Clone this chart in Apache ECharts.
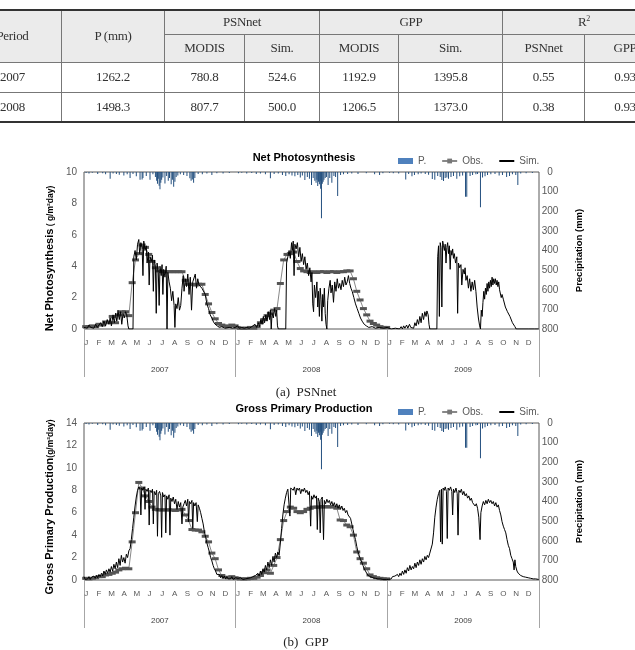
<!DOCTYPE html>
<html><head><meta charset="utf-8">
<script src="https://cdn.jsdelivr.net/npm/echarts@6/dist/echarts.min.js"></script>
<style>
html,body{margin:0;padding:0;background:#fff;width:635px;height:650px;overflow:hidden;position:relative}
#chart{position:absolute;left:0;top:0;width:635px;height:650px}
#tbl{position:absolute;left:-37px;top:9px;width:702px;border-collapse:collapse;font-family:'Liberation Serif','DejaVu Serif',serif;font-size:13px;color:#333;table-layout:fixed}
#tbl td{border:1px solid #777;text-align:center;padding:0;white-space:nowrap;letter-spacing:-0.3px}
#tbl tr.h td{background:#ebebeb}
#tbl tr.top td{border-top:2px solid #333}
#tbl tr.last td{border-bottom:2px solid #333}
</style></head>
<body>
<div id="chart"></div>
<table id="tbl"></table>
<script>
// ---------- table values ----------
const tableYears = ['2007', '2008'];
const tableP = ['1262.2', '1498.3'];
const tablePsnModis = ['780.8', '807.7'];
const tablePsnSim = ['524.6', '500.0'];
const tableGppModis = ['1192.9', '1206.5'];
const tableGppSim = ['1395.8', '1373.0'];
const tableR2Psn = ['0.55', '0.38'];
const tableR2Gpp = ['0.93', '0.93'];

// ---------- chart categories ----------
const monthLetters = ['J','F','M','A','M','J','J','A','S','O','N','D'];
const yearLabels = ['2007', '2008', '2009'];
const yearStartDay = [0, 365, 731];
const totalDays = 1096;

// ---------- precipitation (day index from 2007-01-01, mm) ----------
const precip = [
 [5,5],[12,8],[20,4],[33,10],[45,6],[52,12],[63,35],[70,8],[78,10],[85,14],[96,18],[104,12],[111,30],[118,10],[126,22],[135,40],[140,38],[142,30],[150,20],[159,40],[166,12],[172,25],[175,45],[177,60],[179,35],[181,70],[183,88],[185,55],[187,40],[190,28],[195,58],[199,20],[203,45],[206,30],[210,62],[213,40],[216,75],[219,50],[222,25],[226,18],[232,12],[240,15],[248,20],[255,32],[258,45],[261,38],[264,55],[267,30],[275,10],[285,12],[296,8],[308,15],[320,6],[335,8],[350,5],
 [372,6],[380,4],[392,8],[404,5],[415,10],[425,8],[437,12],[449,32],[458,10],[468,8],[478,15],[486,20],[494,12],[501,18],[508,22],[515,15],[521,28],[526,18],[532,41],[538,25],[543,35],[548,66],[552,30],[556,45],[559,55],[561,40],[563,71],[565,50],[567,62],[569,45],[570,85],[572,236],[574,60],[576,50],[578,40],[581,30],[584,25],[588,66],[592,30],[597,55],[602,20],[606,25],[611,122],[618,15],[625,12],[635,10],[645,8],[660,10],[680,6],[700,12],[712,15],[720,6],
 [736,4],[745,6],[758,8],[775,38],[782,10],[790,22],[796,15],[805,12],[812,8],[822,10],[830,14],[839,36],[845,40],[852,20],[858,25],[862,41],[866,46],[870,30],[874,28],[878,35],[884,25],[890,20],[898,35],[905,22],[912,18],[919,126],[922,126],[930,20],[936,15],[944,12],[948,10],[955,180],[960,28],[966,22],[972,15],[980,12],[990,10],[1000,18],[1008,15],[1018,25],[1025,20],[1032,12],[1040,15],[1045,66],[1052,8],[1065,6],[1080,5]
];

// ---------- MODIS 8-day composites (46 per year) ----------
const obsPsn2007 = [0.15,0.15,0.2,0.15,0.3,0.25,0.45,0.4,0.8,0.4,0.9,1.1,1.1,0.85,2.95,4.4,4.8,5.35,5.2,4.75,4.3,3.9,3.7,3.65,3.65,3.65,3.65,3.65,3.65,3.65,3.1,2.85,2.85,2.8,2.85,2.85,2.2,1.6,1.05,0.65,0.35,0.25,0.2,0.15,0.25,0.2];
const obsPsn2008 = [0.1,0.05,0.05,0.05,0.1,0.05,0.15,0.4,0.6,0.85,1.0,1.2,1.3,2.9,4.4,4.75,4.8,4.9,4.3,3.85,3.7,3.65,3.6,3.65,3.6,3.65,3.65,3.6,3.65,3.65,3.6,3.65,3.65,3.7,3.7,3.2,2.4,1.85,1.3,0.9,0.5,0.35,0.25,0.15,0.1,0.1];
const obsGpp2007 = [0.15,0.1,0.15,0.2,0.3,0.3,0.45,0.5,0.6,0.7,0.9,1.0,1.05,1.0,3.4,6.0,8.7,8.2,7.5,7.0,6.5,6.3,6.25,6.25,6.25,6.25,6.25,6.2,6.25,6.3,5.8,5.3,4.5,4.45,4.45,4.3,3.9,3.4,2.4,1.9,0.9,0.4,0.25,0.2,0.3,0.2];
const obsGpp2008 = [0.15,0.1,0.1,0.1,0.15,0.15,0.25,0.4,0.65,0.9,0.6,1.3,2.0,3.6,5.3,6.1,6.5,6.4,6.1,6.0,6.1,6.3,6.4,6.5,6.5,6.5,6.55,6.5,6.55,6.5,6.4,5.35,5.3,4.9,4.75,4.0,2.5,1.9,1.5,1.0,0.45,0.3,0.2,0.15,0.1,0.1];

// ---------- simulated daily values (day index, value) ----------
const simPsn = [
 [0,0.1],[4,0.2],[8,0.05],[12,0.25],[16,0.1],[20,0.2],[24,0.05],[28,0.3],[32,0.1],[36,0.25],[40,0.4],[44,0.15],[48,0.5],[52,0.2],[56,0.6],[60,0.3],[63,0.7],[66,0.2],[70,0.9],[73,0.4],[76,1.0],[79,0.5],[82,1.2],[85,0.6],[88,1.1],[91,0.3],[94,1.0],[97,0.7],[100,1.1],[103,0.9],[106,0.2],[108,0],[118,0],[120,4.6],[123,5.0],[126,4.4],[129,5.4],[132,5.7],[134,4.8],[137,5.5],[140,5.2],[142,3.4],[144,5.6],[147,5.0],[150,5.3],[152,4.2],[155,4.9],[157,2.8],[159,4.6],[162,4.3],[165,4.7],[167,2.4],[169,4.4],[172,4.0],[174,1.0],[176,4.2],[179,3.6],[181,1.5],[183,4.0],[186,3.4],[188,4.1],[190,2.2],[192,3.8],[195,3.3],[198,4.0],[200,0],[202,3.6],[205,3.0],[208,2.6],[211,1.8],[214,2.4],[217,1.5],[219,0.1],[221,1.6],[224,1.3],[227,2.0],[230,1.2],[233,1.5],[236,2.6],[239,3.4],[241,2.4],[244,3.2],[247,2.7],[250,3.5],[253,2.2],[256,3.3],[259,1.2],[262,3.0],[265,2.9],[268,3.5],[271,2.6],[274,3.2],[277,2.8],[280,2.9],[284,2.6],[288,2.7],[292,2.2],[296,1.6],[300,1.3],[304,0.9],[308,0.7],[312,0.45],[316,0.3],[320,0.2],[326,0.1],[332,0.15],[340,0.05],[350,0.1],[358,0.05],[364,0.1],
 [366,0.1],[370,0.2],[374,0.05],[380,0.1],[386,0.05],[392,0.1],[398,0.05],[404,0.15],[408,0.05],[412,0.3],[416,0.1],[420,0.4],[423,0.15],[426,0.6],[429,0.3],[432,0.8],[435,0.4],[438,0.9],[441,0.5],[444,1.1],[447,0.6],[449,1.2],[451,0],[453,1.0],[456,0.7],[459,1.3],[462,0.8],[464,1.2],[466,0.2],[468,0],[486,0],[488,4.2],[491,4.6],[494,5.0],[497,4.5],[500,5.5],[502,5.0],[504,5.6],[506,3.4],[508,5.4],[511,5.1],[514,5.5],[517,4.6],[520,5.2],[523,4.3],[526,4.8],[529,4.1],[532,4.6],[535,3.8],[538,4.2],[541,3.4],[544,3.9],[547,3.0],[549,3.6],[551,1.6],[553,1.1],[555,2.8],[558,2.0],[561,3.0],[563,1.4],[565,2.4],[567,0.8],[569,2.6],[571,1.9],[573,0.5],[575,2.2],[577,1.4],[579,2.6],[581,1.0],[583,0.3],[585,0],[587,1.8],[590,2.6],[593,3.1],[595,2.3],[598,2.8],[601,1.7],[604,3.0],[607,2.4],[610,3.2],[613,2.6],[616,2.9],[619,2.5],[622,3.1],[625,2.7],[628,3.3],[631,2.8],[634,3.0],[637,3.4],[640,2.9],[643,2.6],[646,2.4],[650,2.0],[654,1.6],[658,1.3],[662,1.0],[666,0.7],[670,0.5],[675,0.3],[680,0.2],[686,0.1],[694,0.15],[702,0.05],[712,0.1],[722,0.05],[730,0.1],
 [731,0.05],[740,0],[750,0.05],[760,0],[764,0.15],[767,0],[770,0.2],[773,0.05],[777,0.25],[780,0.05],[784,0.3],[787,0.1],[791,0.2],[794,0.05],[797,0.4],[800,0.2],[803,0.6],[806,0.3],[809,0.8],[812,0.4],[815,1.0],[818,0.6],[821,1.1],[824,0.8],[826,1.15],[829,0.9],[831,0.3],[833,0],[850,0],[852,4.6],[854,5.3],[856,0.8],[858,5.5],[860,5.2],[862,1.4],[864,5.6],[866,5.3],[868,5.0],[870,5.4],[872,4.2],[874,5.2],[876,5.5],[878,4.8],[880,5.3],[882,3.8],[884,5.0],[886,4.7],[888,5.1],[890,4.5],[892,4.8],[895,4.2],[898,4.6],[900,1.0],[902,4.2],[905,3.9],[908,4.1],[910,2.8],[913,3.8],[916,3.5],[918,3.9],[920,3.1],[923,3.4],[926,2.6],[929,3.2],[932,2.4],[935,3.0],[938,2.5],[941,3.1],[944,2.4],[947,1.4],[950,0.7],[953,0.2],[955,0],[957,1.2],[959,0.8],[961,1.7],[963,2.4],[965,1.9],[967,2.6],[969,2.2],[971,2.9],[973,2.4],[975,3.0],[977,2.6],[979,3.1],[981,2.7],[983,3.3],[985,2.8],[987,3.2],[989,2.9],[991,3.2],[993,2.8],[995,3.1],[997,2.7],[999,3.0],[1001,2.5],[1003,2.6],[1005,2.0],[1007,2.2],[1010,1.9],[1013,1.8],[1015,1.4],[1017,1.5],[1020,1.1],[1023,1.2],[1026,0.8],[1029,0.7],[1032,0.4],[1035,0.5],[1038,0.15],[1041,0],[1055,0],[1070,0],[1085,0],[1095,0]
];
const simGpp = [
 [0,0.3],[3,0.05],[6,0.2],[9,0.1],[12,0.3],[15,0.05],[18,0.25],[21,0.1],[24,0.35],[27,0.15],[30,0.4],[33,0.2],[36,0.5],[39,0.3],[42,0.6],[45,0.35],[48,0.8],[51,0.5],[54,0.9],[57,0.6],[60,1.0],[63,0.7],[66,1.2],[69,0.8],[72,1.4],[75,1.0],[78,1.6],[81,1.1],[84,1.9],[87,1.3],[90,2.2],[93,1.6],[96,2.0],[99,1.5],[102,2.3],[105,2.0],[108,2.6],[111,2.8],[114,3.6],[117,4.6],[120,5.6],[123,6.6],[126,7.4],[129,8.0],[132,8.3],[135,8.1],[137,5.8],[139,8.2],[142,8.0],[145,8.3],[147,6.3],[149,8.1],[152,7.9],[155,8.2],[157,4.9],[159,8.0],[162,7.8],[165,8.1],[167,5.0],[169,7.9],[172,7.6],[175,8.0],[177,3.9],[179,7.7],[182,7.9],[185,7.5],[187,3.8],[189,7.8],[192,7.4],[195,7.6],[197,4.2],[199,7.5],[202,7.2],[205,7.6],[207,4.0],[209,7.3],[212,7.0],[215,7.4],[218,6.8],[221,7.2],[224,6.3],[227,7.0],[230,6.5],[233,6.9],[236,5.0],[238,6.5],[241,6.8],[244,7.1],[247,6.6],[250,7.2],[252,5.2],[254,7.0],[257,6.8],[260,7.1],[262,4.6],[264,6.9],[267,6.6],[270,6.9],[273,5.2],[275,6.7],[278,6.4],[281,6.0],[284,5.5],[287,5.0],[290,4.3],[293,3.8],[296,3.3],[299,2.9],[302,2.5],[305,2.0],[308,1.7],[311,1.3],[314,1.0],[317,0.8],[320,0.5],[323,0.35],[326,0.5],[329,0.2],[332,0.4],[335,0.15],[338,0.35],[341,0.1],[344,0.3],[347,0.1],[350,0.25],[353,0.1],[356,0.3],[359,0.05],[362,0.2],
 [365,0.2],[368,0.05],[371,0.15],[374,0.05],[377,0.2],[380,0.1],[383,0.05],[386,0.2],[389,0.1],[392,0.05],[395,0.15],[398,0.05],[401,0.2],[404,0.1],[407,0.3],[410,0.15],[413,0.4],[416,0.25],[419,0.6],[422,0.35],[425,0.8],[428,0.5],[431,1.0],[434,0.7],[437,1.3],[440,0.9],[443,1.6],[446,1.1],[449,1.8],[452,1.3],[455,2.1],[458,1.6],[461,2.4],[464,2.0],[467,2.5],[470,2.2],[473,3.3],[476,4.6],[479,5.8],[482,6.7],[485,7.3],[488,7.8],[491,8.1],[494,8.0],[496,5.7],[498,8.2],[501,8.3],[504,8.0],[507,8.3],[510,7.6],[513,8.2],[516,8.0],[519,8.2],[522,7.7],[525,8.1],[528,7.9],[531,8.2],[534,7.8],[537,8.0],[540,7.6],[543,7.9],[546,4.8],[548,7.5],[551,7.2],[554,7.6],[557,7.3],[560,7.5],[562,4.5],[564,7.3],[567,7.0],[569,4.2],[571,7.2],[574,7.4],[577,3.6],[579,7.1],[582,6.8],[585,7.2],[588,6.9],[591,7.1],[594,6.7],[597,7.0],[600,6.6],[603,6.9],[606,6.5],[609,6.8],[612,6.4],[615,6.7],[618,6.3],[621,6.6],[624,6.2],[627,6.4],[630,6.0],[633,6.2],[636,5.8],[639,5.9],[642,5.5],[645,5.0],[648,4.5],[651,4.0],[654,3.6],[657,3.0],[660,2.5],[663,2.2],[666,1.8],[669,1.6],[672,1.3],[675,1.0],[678,0.8],[681,0.6],[684,0.4],[687,0.5],[690,0.3],[693,0.4],[696,0.2],[699,0.35],[702,0.15],[705,0.3],[708,0.1],[711,0.25],[714,0.1],[717,0.2],[720,0.05],[724,0.15],[728,0.05],
 [731,0.1],[734,0.05],[737,0.2],[740,0.1],[743,0.3],[746,0.15],[749,0.35],[752,0.2],[755,0.5],[758,0.3],[761,0.6],[764,0.4],[767,0.8],[770,0.5],[773,0.9],[776,0.6],[779,1.1],[782,0.8],[785,1.3],[788,0.9],[791,1.2],[794,1.0],[797,1.5],[800,1.1],[803,1.6],[806,1.3],[809,1.8],[812,1.4],[815,1.9],[818,1.6],[821,2.1],[824,1.8],[827,2.2],[830,2.0],[833,2.4],[836,2.5],[839,3.2],[842,4.2],[845,5.6],[848,6.5],[851,7.2],[854,7.7],[857,8.0],[859,3.4],[861,8.1],[863,3.2],[865,8.2],[868,8.0],[870,8.3],[873,7.9],[875,3.7],[877,8.2],[880,8.0],[883,8.3],[886,7.9],[888,5.8],[890,8.1],[893,7.8],[896,8.2],[899,7.7],[901,4.0],[903,8.0],[906,7.8],[909,8.1],[912,7.6],[915,7.9],[918,7.5],[921,7.7],[924,7.3],[927,7.5],[930,7.1],[933,7.3],[936,6.9],[939,7.0],[942,6.6],[945,6.8],[948,6.4],[951,5.6],[954,3.6],[956,6.0],[959,6.6],[962,7.0],[965,6.7],[968,7.1],[971,6.8],[974,7.2],[977,6.9],[980,7.1],[983,6.8],[986,7.0],[989,6.6],[992,6.9],[995,6.5],[998,6.7],[1001,6.2],[1004,5.8],[1007,5.2],[1010,4.8],[1013,4.5],[1016,4.2],[1019,3.6],[1022,3.1],[1025,2.8],[1028,2.2],[1031,1.9],[1034,1.6],[1036,0.9],[1038,1.8],[1040,1.2],[1043,0.8],[1046,0.6],[1049,0.7],[1052,0.4],[1055,0.5],[1058,0.3],[1061,0.45],[1064,0.25],[1067,0.4],[1070,0.2],[1073,0.35],[1076,0.15],[1079,0.3],[1082,0.1],[1085,0.25],[1088,0.1],[1091,0.2],[1095,0.05]
];

// ---------- build table ----------
(function buildTable(){
  const widths = [98,103,80,75,79,104,82,81];
  let h = '<colgroup>' + widths.map(w => '<col style="width:' + w + 'px">').join('') + '</colgroup>';
  h += '<tr class="h top" style="height:24px"><td rowspan="2">Period</td><td rowspan="2">P (mm)</td><td colspan="2">PSNnet</td><td colspan="2">GPP</td><td colspan="2">R<sup style="font-size:8px">2</sup></td></tr>';
  h += '<tr class="h" style="height:28px"><td>MODIS</td><td>Sim.</td><td>MODIS</td><td>Sim.</td><td>PSNnet</td><td>GPP</td></tr>';
  tableYears.forEach((y, i) => {
    const cls = i === tableYears.length - 1 ? ' class="last"' : '';
    h += '<tr' + cls + ' style="height:30px"><td>' + y + '</td><td>' + tableP[i] + '</td><td>' + tablePsnModis[i] + '</td><td>' + tablePsnSim[i] + '</td><td>' + tableGppModis[i] + '</td><td>' + tableGppSim[i] + '</td><td>' + tableR2Psn[i] + '</td><td>' + tableR2Gpp[i] + '</td></tr>';
  });
  document.getElementById('tbl').innerHTML = h;
})();

// ---------- chart ----------
const FONT = "'Liberation Sans', Arial, sans-serif";
const SERIF = "'Liberation Serif', 'DejaVu Serif', serif";
const monthCats = [];
yearLabels.forEach(() => monthLetters.forEach(m => monthCats.push(m)));

function obsPairs(a, b) {
  const out = [];
  a.forEach((v, k) => out.push([yearStartDay[0] + 8 * k + 4, v]));
  b.forEach((v, k) => out.push([yearStartDay[1] + 8 * k + 4, v]));
  return out;
}

const panels = [
  { top: 172, leftMax: 10, titleY: 158, legendTop: 151, title: 'Net Photosynthesis', namePad: 16,
    yName: '{a|Net Photosynthesis}{b| ( g/m²day)}', obs: obsPairs(obsPsn2007, obsPsn2008), sim: simPsn, caption: '(a)  PSNnet', capY: 393 },
  { top: 423, leftMax: 14, titleY: 409, legendTop: 402, title: 'Gross Primary Production', namePad: 11,
    yName: '{a|Gross Primary Production}{b|(g/m²day)}', obs: obsPairs(obsGpp2007, obsGpp2008), sim: simGpp, caption: '(b)  GPP', capY: 643 }
];

const option = { animation: false, grid: [], xAxis: [], yAxis: [], series: [], legend: [], graphic: [] };

panels.forEach((p, gi) => {
  option.grid.push({ left: 84, top: p.top, width: 455, height: 157, show: true, borderColor: '#595959', borderWidth: 1, backgroundColor: 'transparent' });
  option.xAxis.push(
    { type: 'value', gridIndex: gi, min: 0, max: totalDays, show: false },
    { type: 'category', gridIndex: gi, position: 'bottom', data: monthCats,
      axisLine: { show: false, onZero: false }, axisTick: { show: false }, splitLine: { show: false },
      axisLabel: { interval: 0, margin: 10, fontSize: 8, color: '#595959', fontFamily: FONT, padding: [0, 8, 0, 0] } },
    { type: 'category', gridIndex: gi, position: 'bottom', data: yearLabels,
      axisLine: { show: false, onZero: false },
      axisTick: { show: true, length: 48, interval: 0, lineStyle: { color: '#a6a6a6', width: 1 } },
      splitLine: { show: false },
      axisLabel: { margin: 37, fontSize: 8, color: '#404040', fontFamily: FONT } }
  );
  option.yAxis.push(
    { type: 'value', gridIndex: gi, position: 'left', min: 0, max: p.leftMax, interval: 2,
      axisLine: { show: false, onZero: false }, axisTick: { show: false }, splitLine: { show: false },
      axisLabel: { fontSize: 10, color: '#595959', margin: 7, fontFamily: FONT },
      name: p.yName, nameLocation: 'middle', nameRotate: 90, nameGap: 27,
      nameTextStyle: { fontFamily: FONT, padding: [0, p.namePad, 0, 0], rich: {
        a: { fontSize: 11, fontWeight: 'bold', color: '#000', fontFamily: FONT, verticalAlign: 'bottom' },
        b: { fontSize: 8.5, fontWeight: 'bold', color: '#000', fontFamily: FONT, verticalAlign: 'bottom' } } } },
    { type: 'value', gridIndex: gi, position: 'right', min: 0, max: 800, interval: 100, inverse: true,
      axisLine: { show: false, onZero: false }, axisTick: { show: false }, splitLine: { show: false },
      axisLabel: { fontSize: 10, color: '#595959', margin: 11, align: 'center', fontFamily: FONT },
      name: 'Precipitation (mm)', nameLocation: 'middle', nameRotate: 90, nameGap: 35,
      nameTextStyle: { fontSize: 9.5, fontWeight: 'bold', color: '#000', fontFamily: FONT } }
  );
  option.series.push(
    { name: 'P.', type: 'bar', xAxisIndex: 3 * gi, yAxisIndex: 2 * gi + 1, data: precip, barWidth: 1,
      itemStyle: { color: '#24507f' }, z: 1 },
    { name: 'Obs.', type: 'line', xAxisIndex: 3 * gi, yAxisIndex: 2 * gi, data: p.obs,
      symbol: 'rect', symbolSize: [7, 3], showSymbol: true,
      itemStyle: { color: '#555' }, lineStyle: { color: '#888', width: 1 }, z: 2 },
    { name: 'Sim.', type: 'line', xAxisIndex: 3 * gi, yAxisIndex: 2 * gi, data: p.sim,
      symbol: 'none', showSymbol: false, lineStyle: { color: '#000', width: 1 }, z: 3 }
  );
  option.legend.push({ left: 393, top: p.legendTop, itemWidth: 15, itemHeight: 6, itemGap: 15,
    textStyle: { fontSize: 10, color: '#595959', fontFamily: FONT },
    data: [
      { name: 'P.', icon: 'rect', itemStyle: { color: '#4f81bd' } },
      { name: 'Obs.', itemStyle: { color: '#777' } },
      { name: 'Sim.', itemStyle: { opacity: 0 } }
    ] });
  option.graphic.push(
    { type: 'text', x: 304, y: p.titleY, style: { text: p.title, font: 'bold 11px ' + FONT, fill: '#000', textAlign: 'center', align: 'center', textVerticalAlign: 'middle', verticalAlign: 'middle' } },
    { type: 'text', x: 306, y: p.capY, style: { text: p.caption, font: '13px ' + SERIF, fill: '#222', textAlign: 'center', align: 'center', textVerticalAlign: 'middle', verticalAlign: 'middle' } }
  );
});

const chart = echarts.init(document.getElementById('chart'), null, { renderer: 'canvas' });
chart.setOption(option);
</script>
</body></html>
